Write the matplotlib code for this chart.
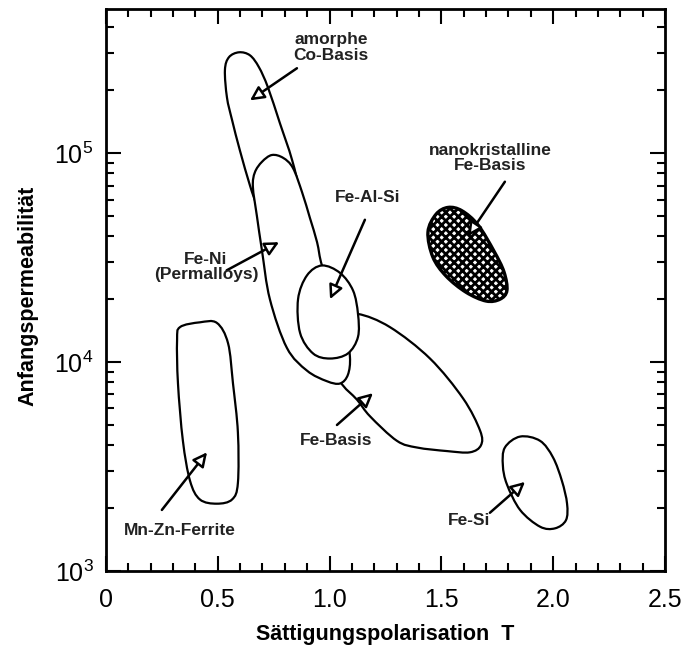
import numpy as np
import matplotlib
matplotlib.use("Agg")
import matplotlib.pyplot as plt
from matplotlib.path import Path
from matplotlib.patches import PathPatch
from matplotlib.ticker import MultipleLocator, LogLocator, FixedLocator, FixedFormatter

plt.rcParams["font.family"] = ["Liberation Sans", "DejaVu Sans"]
plt.rcParams["hatch.linewidth"] = 2.0

# ── Werkstoffbereiche: Umriss (J_s in T, mu_i) ─────────────────────────────
co_T  = [0.532, 0.550, 0.595, 0.644, 0.684, 0.724, 0.778, 0.832, 0.868, 0.877,
         0.832, 0.778, 0.724, 0.675, 0.644, 0.599, 0.564, 0.541]
co_mu = [2.5e5, 2.88e5, 3.04e5, 2.94e5, 2.58e5, 2.07e5, 1.39e5, 9.3e4, 6.3e4, 4.1e4,
         2.7e4, 2.8e4, 4.1e4, 5.6e4, 7.0e4, 1.03e5, 1.44e5, 1.85e5]

feni_T  = [0.698, 0.742, 0.792, 0.836, 0.877, 0.912, 0.944, 0.966, 1.024, 1.069, 1.091,
           1.082, 1.047, 0.988, 0.899, 0.809, 0.733, 0.698, 0.675, 0.657, 0.666]
feni_mu = [9.1e4, 9.8e4, 9.5e4, 8.5e4, 6.5e4, 4.9e4, 3.75e4, 2.9e4, 2.0e4, 1.42e4, 1.06e4,
           8.7e3, 7.9e3, 8.1e3, 9.1e3, 1.17e4, 2.0e4, 3.4e4, 5.0e4, 6.9e4, 8.1e4]

fealsi_T  = [0.966, 1.047, 1.105, 1.127, 1.127, 1.082, 1.002, 0.926, 0.868, 0.859, 0.899]
fealsi_mu = [2.9e4, 2.67e4, 2.2e4, 1.7e4, 1.32e4, 1.1e4, 1.04e4, 1.1e4, 1.38e4, 2.0e4, 2.6e4]

febasis_T  = [1.047, 1.127, 1.270, 1.449, 1.597, 1.673, 1.677, 1.628, 1.525, 1.391,
              1.301, 1.181, 1.123, 1.047, 1.002]
febasis_mu = [1.62e4, 1.7e4, 1.47e4, 1.04e4, 6.7e3, 4.7e3, 4.0e3, 3.7e3, 3.75e3, 3.9e3,
              4.2e3, 5.5e3, 6.6e3, 8.1e3, 1.14e4]

fesi_T  = [1.852, 1.941, 1.999, 2.039, 2.062, 2.057, 2.008, 1.941, 1.852, 1.793, 1.775, 1.784]
fesi_mu = [4.4e3, 4.2e3, 3.5e3, 2.7e3, 2.1e3, 1.75e3, 1.6e3, 1.63e3, 1.96e3, 2.6e3, 3.2e3, 3.9e3]

mnzn_T  = [0.331, 0.420, 0.496, 0.546, 0.568, 0.590, 0.590, 0.564, 0.496, 0.420,
           0.376, 0.344, 0.322, 0.318]
mnzn_mu = [1.47e4, 1.55e4, 1.54e4, 1.23e4, 7.9e3, 4.6e3, 2.64e3, 2.2e3, 2.1e3, 2.2e3,
           2.7e3, 4.2e3, 7.9e3, 1.27e4]

nano_T  = [1.440, 1.476, 1.530, 1.592, 1.664, 1.735, 1.780, 1.793, 1.762, 1.700,
           1.610, 1.521, 1.462]
nano_mu = [4.19e4, 5.1e4, 5.5e4, 5.3e4, 4.53e4, 3.4e4, 2.7e4, 2.2e4, 2.0e4, 1.96e4,
           2.16e4, 2.58e4, 3.18e4]

# ── Beschriftungen: Text, Textposition, Pfeilanfang, Pfeilspitze ───────────
labels = ["amorphe\nCo-Basis", "Fe-Ni\n(Permalloys)", "Fe-Al-Si",
          "nanokristalline\nFe-Basis", "Fe-Basis", "Fe-Si", "Mn-Zn-Ferrite"]
label_T  = [1.006, 0.447, 1.172, 1.717, 1.029, 1.623, 0.331]
label_mu = [3.2e5, 2.85e4, 6.15e4, 9.5e4, 4.2e3, 1.75e3, 1.57e3]
arrow_from_T  = [0.854, 0.540, 1.158, 1.784, 1.033, 1.717, 0.250]
arrow_from_mu = [2.55e5, 2.75e4, 4.8e4, 7.3e4, 5.0e3, 1.9e3, 1.96e3]
arrow_to_T  = [0.644, 0.774, 1.002, 1.619, 1.194, 1.874, 0.452]
arrow_to_mu = [1.79e5, 3.75e4, 2.0e4, 4.0e4, 7.1e3, 2.67e3, 3.7e3]

x_ticks = [0, 0.5, 1.0, 1.5, 2.0, 2.5]
x_ticklabels = ["0", "0.5", "1.0", "1.5", "2.0", "2.5"]


def glatter_umriss(T, mu):
    """Geschlossene Catmull-Rom-Kurve in (T, log mu) als Bezier-Pfad."""
    P = np.column_stack([T, np.log10(mu)])
    n = len(P)
    verts = [P[0]]
    codes = [Path.MOVETO]
    for i in range(n):
        p0, p1, p2, p3 = P[i - 1], P[i], P[(i + 1) % n], P[(i + 2) % n]
        verts += [p1 + (p2 - p0) / 6, p2 - (p3 - p1) / 6, p2]
        codes += [Path.CURVE4] * 3
    verts.append(P[0])
    codes.append(Path.CLOSEPOLY)
    V = np.array(verts)
    V[:, 1] = 10 ** V[:, 1]
    return Path(V, codes)


fig = plt.figure(figsize=(6.85, 6.46), dpi=100)
ax = fig.add_axes([0.1547, 0.1161, 0.8161, 0.8700])
ax.set_yscale("log")
ax.set_xlim(0, 2.5)
ax.set_ylim(1e3, 4.9e5)

# Reihenfolge bestimmt, welche Umrisse verdeckt werden
flaechen = [
    (febasis_T, febasis_mu, 2),
    (co_T, co_mu, 3),
    (feni_T, feni_mu, 4),
    (fealsi_T, fealsi_mu, 5),
    (fesi_T, fesi_mu, 3),
    (mnzn_T, mnzn_mu, 3),
]
for T, mu, z in flaechen:
    ax.add_patch(PathPatch(glatter_umriss(T, mu), facecolor="white",
                           edgecolor="black", lw=1.6, zorder=z))

ax.add_patch(PathPatch(glatter_umriss(nano_T, nano_mu), facecolor="white",
                       edgecolor="black", hatch="xxxx", lw=2.4, zorder=3))

for i, txt in enumerate(labels):
    ax.annotate("", xy=(arrow_to_T[i], arrow_to_mu[i]),
                xytext=(arrow_from_T[i], arrow_from_mu[i]),
                arrowprops=dict(arrowstyle="-|>,head_length=0.6,head_width=0.3",
                                fc="white", ec="black", lw=1.8,
                                mutation_scale=14, shrinkA=0, shrinkB=0),
                zorder=6)
    ax.text(label_T[i], label_mu[i], txt, ha="center", va="center",
            fontsize=12.5, fontweight="bold", color="#222222",
            linespacing=1.05, zorder=7)

ax.xaxis.set_major_locator(FixedLocator(x_ticks))
ax.xaxis.set_major_formatter(FixedFormatter(x_ticklabels))
ax.xaxis.set_minor_locator(MultipleLocator(0.1))
ax.yaxis.set_major_locator(LogLocator(base=10))
ax.yaxis.set_minor_locator(LogLocator(base=10, subs=np.arange(2, 10)))

ax.tick_params(which="both", direction="in", top=True, right=True, width=1.5)
ax.tick_params(which="major", length=11)
ax.tick_params(which="minor", length=6)
ax.tick_params(axis="x", labelsize=18, pad=12)
ax.tick_params(axis="y", labelsize=18, pad=9)
for s in ax.spines.values():
    s.set_linewidth(2.0)

ax.set_xlabel("Sättigungspolarisation  T", fontsize=15.5, fontweight="bold")
ax.set_ylabel("Anfangspermeabilität", fontsize=15.5, fontweight="bold")
ax.xaxis.set_label_coords(0.5, -0.095)
ax.yaxis.set_label_coords(-0.12, 0.49)

fig.savefig("out.png", dpi=100)
